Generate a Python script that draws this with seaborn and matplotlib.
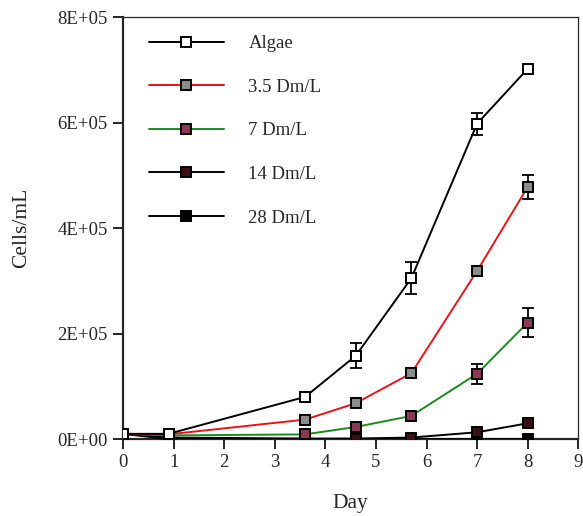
import matplotlib
matplotlib.use("Agg")
import matplotlib.pyplot as plt
import seaborn as sns
import numpy as np
import pandas as pd
from matplotlib.ticker import FuncFormatter

# Sampling days
days = [0, 0.9, 3.6, 4.6, 5.7, 7, 8]

# Cell densities (cells/mL) per treatment
algae = [1.0e4, 1.0e4, 8.0e4, 1.58e5, 3.05e5, 5.98e5, 7.02e5]
dm_3_5 = [1.0e4, 9.0e3, 3.7e4, 6.8e4, 1.25e5, 3.19e5, 4.78e5]
dm_7 = [1.0e4, 7.0e3, 9.0e3, 2.3e4, 4.4e4, 1.24e5, 2.21e5]
dm_14 = [1.0e4, 3.0e3, 1.0e3, 1.0e3, 3.0e3, 1.3e4, 3.0e4]
dm_28 = [1.0e4, 0, 0, 0, 0, 0, 0]

# Standard errors (0 where no bar is drawn)
algae_err = [0, 0, 0, 2.4e4, 3.0e4, 2.1e4, 0]
dm_3_5_err = [0, 0, 0, 0, 0, 0, 2.3e4]
dm_7_err = [0, 0, 0, 0, 0, 1.9e4, 2.7e4]
dm_14_err = [0, 0, 0, 0, 0, 0, 0]
dm_28_err = [0, 0, 0, 0, 0, 0, 0]

labels = ["Algae", "3.5 Dm/L", "7 Dm/L", "14 Dm/L", "28 Dm/L"]
series = [algae, dm_3_5, dm_7, dm_14, dm_28]
errors = [algae_err, dm_3_5_err, dm_7_err, dm_14_err, dm_28_err]
line_colors = ["black", "#e8141b", "#1a8a1e", "black", "black"]
face_colors = ["white", "#8c8c8c", "#8a3a52", "#3a0f16", "black"]

sns.set_style("ticks")
plt.rcParams["font.family"] = ["Liberation Serif", "DejaVu Serif"]
plt.rcParams["font.size"] = 13.5

fig = plt.figure(figsize=(5.83, 5.16), dpi=100)
ax = fig.add_axes([0.211, 0.149, 0.781, 0.818])

n = len(labels)
for i in reversed(range(n)):
    df = pd.DataFrame({"Day": days, "Cells": series[i]})
    z = 10 + (n - i) * 2
    ax.errorbar(days, series[i], yerr=errors[i], fmt="none", ecolor="black",
                elinewidth=1.3, capsize=4, capthick=1.3, zorder=z - 1)
    sns.lineplot(data=df, x="Day", y="Cells", ax=ax, color=line_colors[i],
                 linewidth=1.4, marker="s", markersize=6.5,
                 markerfacecolor=face_colors[i], markeredgecolor="black",
                 markeredgewidth=1.4, label=labels[i], zorder=z)

h, l = ax.get_legend_handles_labels()
order = [l.index(lab) for lab in labels]
ax.legend([h[k] for k in order], labels, loc="upper left",
          bbox_to_anchor=(0.02, 0.997), frameon=False, handlelength=4.0,
          handletextpad=1.3, labelspacing=1.41, fontsize=13.5)

ax.set_xlim(0, 9)
ax.set_ylim(0, 8e5)
ax.set_xticks(range(0, 10))
ax.set_yticks([0, 2e5, 4e5, 6e5, 8e5])


def sci(v, pos):
    if v == 0:
        return "0E+00"
    e = int(np.floor(np.log10(abs(v))))
    return f"{v / 10 ** e:.0f}E+{e:02d}"


ax.yaxis.set_major_formatter(FuncFormatter(sci))
ax.set_xlabel("Day", fontsize=15.5, labelpad=16)
ax.set_ylabel("Cells/mL", fontsize=15.5, labelpad=19)

for side in ["left", "bottom"]:
    ax.spines[side].set_linewidth(1.6)
for side in ["top", "right"]:
    ax.spines[side].set_linewidth(0.9)
    ax.spines[side].set_visible(True)
ax.tick_params(axis="both", direction="out", length=7, width=1.2,
               labelsize=13.5, color="black", pad=4)
ax.tick_params(top=False, right=False)

fig.savefig("out.png", dpi=100)
